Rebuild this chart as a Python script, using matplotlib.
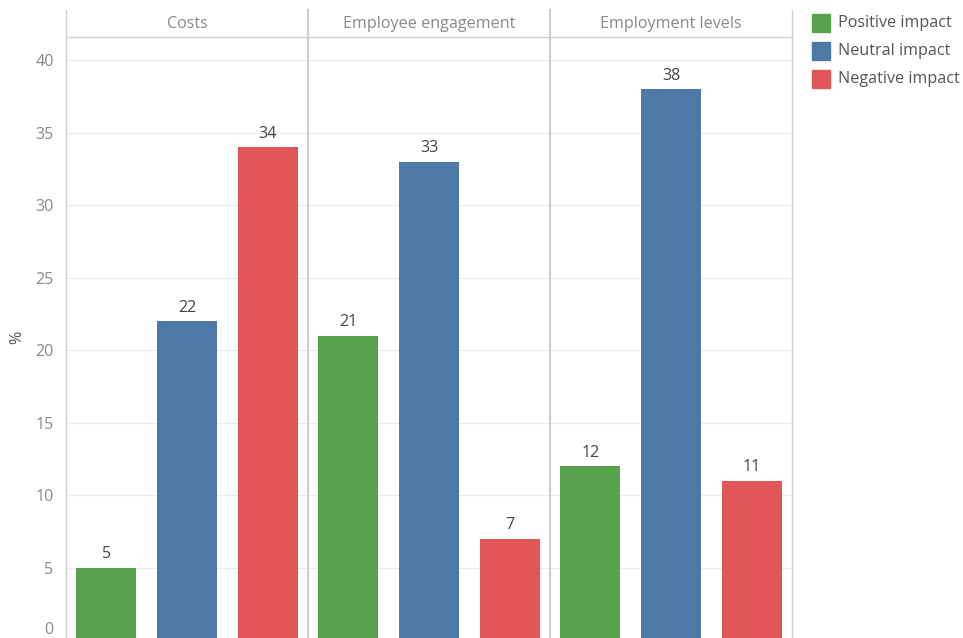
import matplotlib
matplotlib.use("Agg")
import matplotlib.pyplot as plt
import matplotlib.transforms as mtransforms
from matplotlib.lines import Line2D
from matplotlib.patches import Rectangle

panels = ["Costs", "Employee engagement", "Employment levels"]
impacts = ["Positive impact", "Neutral impact", "Negative impact"]
values = {
    "Costs": [5, 22, 34],
    "Employee engagement": [21, 33, 7],
    "Employment levels": [12, 38, 11],
}
colors = ["#59A14F", "#4E79A7", "#E15759"]
yticks = [0, 5, 10, 15, 20, 25, 30, 35, 40]

plt.rcParams['font.family'] = ['Open Sans', 'DejaVu Sans']
fs = 11.6

W, H = 963, 638
fig = plt.figure(figsize=(W / 100, H / 100), dpi=100)

def fx(px): return px / W
def fy(py): return 1 - py / H

x0, pw = 66, 242
top, bottom = 37, 640
grid_c = "#ececec"
line_c = "#cfcfcf"
tick_c = "#8a8a8a"

for i, name in enumerate(panels):
    ax = fig.add_axes([fx(x0 + i * pw), fy(bottom), pw / W, (bottom - top) / H])
    ax.set_xlim(-0.5, 2.5)
    ax.set_ylim(0, (bottom - top) / 14.49)
    ax.bar(range(3), values[name], width=0.74, color=colors, zorder=3)
    for j, v in enumerate(values[name]):
        ax.annotate(str(v), (j, v), xytext=(0, 4), textcoords="offset points",
                    ha="center", va="bottom", fontsize=fs, color="#444444")
    ax.set_yticks(yticks)
    ax.grid(axis="y", color=grid_c, linewidth=0.8, zorder=0)
    ax.set_xticks([])
    for s in ax.spines.values():
        s.set_visible(False)
    if i == 0:
        ax.tick_params(axis="y", length=0, labelsize=fs, labelcolor=tick_c, pad=9)
        fig.canvas.draw()
        # keep the "0" label inside the figure
        zero = ax.get_yticklabels()[0]
        zero.set_transform(zero.get_transform() +
                           mtransforms.ScaledTranslation(0, 12 / 100, fig.dpi_scale_trans))
    else:
        ax.tick_params(axis="y", length=0, labelleft=False)
    fig.text(fx(x0 + i * pw + pw / 2), fy(23.5), name, ha="center", va="center",
             fontsize=fs, color=tick_c)

fig.text(fx(17), fy(337), "%", rotation=90, ha="center", va="center",
         fontsize=fs, color="#555555")

# panel frame lines
for k in range(4):
    xx = fx(x0 + k * pw)
    fig.add_artist(Line2D([xx, xx], [fy(10), 0], color=line_c,
                          linewidth=1.0 if k in (0, 3) else 1.6))
fig.add_artist(Line2D([fx(x0), fx(x0 + 3 * pw)], [fy(top), fy(top)], color=line_c, linewidth=1.0))

# legend
for j, (lab, c) in enumerate(zip(impacts, colors)):
    yc = 23 + j * 28
    fig.add_artist(Rectangle((fx(812), fy(yc + 9)), 18 / W, 18 / H, color=c,
                             transform=fig.transFigure))
    fig.text(fx(838), fy(yc), lab, ha="left", va="center", fontsize=fs, color="#555555")

fig.savefig("out.png", dpi=100)
